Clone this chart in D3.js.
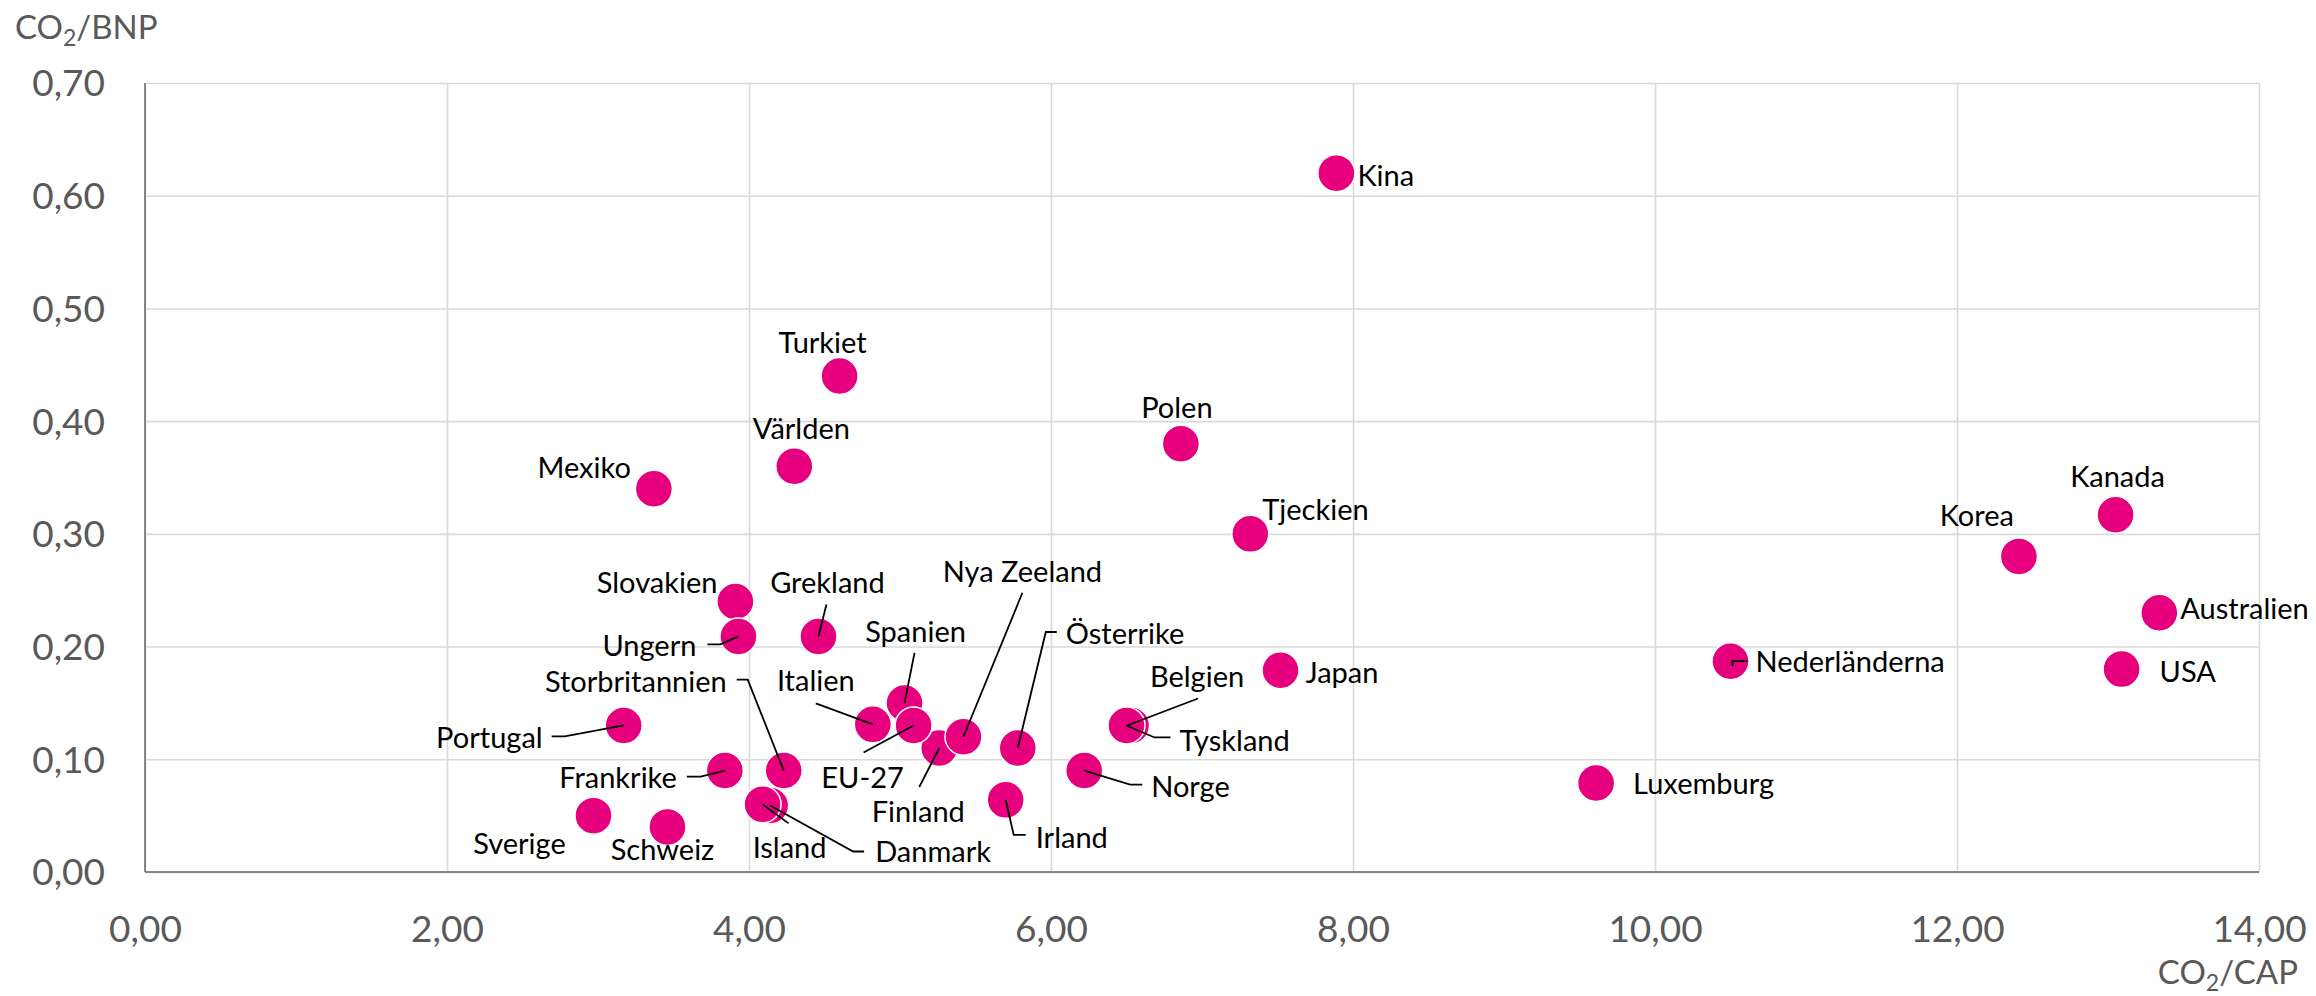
<!DOCTYPE html>
<html><head><meta charset="utf-8">
<script src="https://cdn.jsdelivr.net/npm/d3@7"></script>
<style>html,body{margin:0;padding:0;background:#fff;} svg{display:block;}</style>
</head><body><svg id="chart" width="2316" height="996"></svg>
<script>
// ---- data ----
const countries = ["Kina","Turkiet","Världen","Mexiko","Polen","Tjeckien","Korea","Kanada","Australien","USA","Nederländerna","Luxemburg","Japan","Belgien","Tyskland","Norge","Irland","Österrike","Finland","Nya Zeeland","Spanien","Italien","EU-27","Grekland","Slovakien","Ungern","Storbritannien","Portugal","Frankrike","Danmark","Island","Sverige","Schweiz"];
const co2PerCap = [7.89,4.60,4.30,3.37,6.86,7.32,12.41,13.05,13.34,13.09,10.50,9.61,7.52,6.53,6.50,6.22,5.70,5.78,5.26,5.42,5.03,4.82,5.09,4.46,3.91,3.93,4.23,3.17,3.84,4.14,4.09,2.97,3.46];
const co2PerBnp = [0.62,0.44,0.36,0.34,0.38,0.30,0.28,0.317,0.23,0.18,0.187,0.079,0.179,0.13,0.13,0.09,0.064,0.11,0.11,0.12,0.15,0.131,0.13,0.209,0.24,0.209,0.09,0.13,0.09,0.059,0.06,0.05,0.04];
const xTicks = [0,2,4,6,8,10,12,14];
const yTicks = [0,0.1,0.2,0.3,0.4,0.5,0.6,0.7];
const xTitle = ["CO", "2", "/CAP"];
const yTitle = ["CO", "2", "/BNP"];

// ---- label layout (pixel offsets from the marker) ----
const labelLayout = {
  "Kina":{a:"start",dx:21,dy:2},
  "Turkiet":{a:"middle",dx:-17,dy:-33},
  "Världen":{a:"middle",dx:7,dy:-38},
  "Mexiko":{a:"end",dx:-23,dy:-21},
  "Polen":{a:"middle",dx:-4,dy:-36},
  "Tjeckien":{a:"start",dx:12,dy:-24},
  "Korea":{a:"end",dx:-5,dy:-41},
  "Kanada":{a:"middle",dx:2,dy:-38},
  "Australien":{a:"start",dx:21,dy:-4},
  "USA":{a:"start",dx:38,dy:2},
  "Nederländerna":{a:"start",dx:25,dy:0,leader:[[2,5],[2,0],[17,0]]},
  "Luxemburg":{a:"start",dx:37,dy:1},
  "Japan":{a:"start",dx:25,dy:2},
  "Belgien":{a:"middle",dx:66,dy:-49,leader:[[67,-27],[-4,0]]},
  "Tyskland":{a:"start",dx:53,dy:15,leader:[[0,0],[28,12],[44,12]]},
  "Norge":{a:"start",dx:67,dy:16,leader:[[0,0],[46,14],[58,14]]},
  "Irland":{a:"start",dx:30,dy:38,leader:[[0,0],[8,35],[20,35]]},
  "Österrike":{a:"start",dx:48,dy:-114,leader:[[0,0],[28,-116],[39,-116]]},
  "Finland":{a:"middle",dx:-21,dy:64,leader:[[-20,39],[0,0]]},
  "Nya Zeeland":{a:"middle",dx:59,dy:-165,leader:[[59,-144],[0,0]]},
  "Spanien":{a:"middle",dx:11,dy:-71,leader:[[10,-50],[0,0]]},
  "Italien":{a:"middle",dx:-57,dy:-44,leader:[[-57,-21],[0,0]]},
  "EU-27":{a:"middle",dx:-51,dy:52,leader:[[-50,27],[0,0]]},
  "Grekland":{a:"middle",dx:9,dy:-54,leader:[[8,-32],[0,0]]},
  "Slovakien":{a:"end",dx:-18,dy:-19},
  "Ungern":{a:"end",dx:-42,dy:9,leader:[[-31,8],[-18,8],[0,0]]},
  "Storbritannien":{a:"end",dx:-57,dy:-89,leader:[[-47,-91],[-36,-91],[0,0]]},
  "Portugal":{a:"end",dx:-81,dy:12,leader:[[-72,11],[-59,11],[0,0]]},
  "Frankrike":{a:"end",dx:-48,dy:7,leader:[[-38,6],[-24,6],[0,0]]},
  "Danmark":{a:"start",dx:105,dy:46,leader:[[0,0],[83,46],[94,46]]},
  "Island":{a:"middle",dx:27,dy:43,leader:[[0,0],[26,19]]},
  "Sverige":{a:"middle",dx:-74,dy:28},
  "Schweiz":{a:"middle",dx:-5,dy:23}
};

const FONT = "Lato, 'Open Sans', 'DejaVu Sans', sans-serif";
const svg = d3.select("#chart");
const plotL = 145, plotR = 2259, plotT = 83, plotB = 872;
const x = d3.scaleLinear().domain([0,14]).range([plotL,plotR]);
const y = d3.scaleLinear().domain([0,0.7]).range([plotB,plotT]);
const fmt = v => d3.format(".2f")(v).replace(".", ",");

// gridlines
const gx = svg.append("g").attr("transform",`translate(0,${plotB})`)
  .call(d3.axisBottom(x).tickValues(xTicks).tickSize(-(plotB-plotT)).tickFormat(""));
gx.select(".domain").remove();
gx.selectAll("line").attr("stroke","#d9d9d9").attr("stroke-width",1.6);
const gy = svg.append("g").attr("transform",`translate(${plotL},0)`)
  .call(d3.axisLeft(y).tickValues(yTicks).tickSize(-(plotR-plotL)).tickFormat(""));
gy.select(".domain").remove();
gy.selectAll("line").attr("stroke","#d9d9d9").attr("stroke-width",1.6);

// axes lines
svg.append("line").attr("x1",plotL).attr("x2",plotL).attr("y1",plotT).attr("y2",plotB)
  .attr("stroke","#868686").attr("stroke-width",2);
svg.append("line").attr("x1",plotL).attr("x2",plotR).attr("y1",plotB).attr("y2",plotB)
  .attr("stroke","#868686").attr("stroke-width",2);

// tick labels
const ax = svg.append("g").attr("transform",`translate(0,${plotB})`)
  .call(d3.axisBottom(x).tickValues(xTicks).tickSize(0).tickFormat(fmt));
ax.select(".domain").remove();
ax.selectAll("text").attr("y",70).attr("dy",null)
  .attr("font-family",FONT).attr("font-size",37).attr("fill","#595959");
const ay = svg.append("g").attr("transform",`translate(${plotL},0)`)
  .call(d3.axisLeft(y).tickValues(yTicks).tickSize(0).tickFormat(fmt));
ay.select(".domain").remove();
ay.selectAll("text").attr("x",-40).attr("dy","0.35em")
  .attr("font-family",FONT).attr("font-size",37).attr("fill","#595959");

// axis titles
function title(parts, xp, yp, anchor){
  const t = svg.append("text").attr("x",xp).attr("y",yp).attr("text-anchor",anchor)
    .attr("font-family",FONT).attr("font-size",33).attr("fill","#595959");
  t.append("tspan").text(parts[0]);
  t.append("tspan").attr("dy",7).attr("font-size",23).text(parts[1]);
  t.append("tspan").attr("dy",-7).text(parts[2]);
}
title(yTitle, 15, 39, "start");
title(xTitle, 2298, 984, "end");

// points
const data = countries.map((c,i)=>({name:c, cap:co2PerCap[i], bnp:co2PerBnp[i]}));
svg.append("g").selectAll("circle").data(data).join("circle")
  .attr("cx",d=>x(d.cap)).attr("cy",d=>y(d.bnp)).attr("r",18.5)
  .attr("fill","#e6007e").attr("stroke","#ffffff").attr("stroke-width",1.5);

// leaders
const line = d3.line();
svg.append("g").selectAll("path").data(data.filter(d=>labelLayout[d.name].leader)).join("path")
  .attr("d",d=>{const px=x(d.cap), py=y(d.bnp);
     return line(labelLayout[d.name].leader.map(p=>[px+p[0],py+p[1]]));})
  .attr("fill","none").attr("stroke","#000").attr("stroke-width",1.8);

// labels
svg.append("g").selectAll("text").data(data).join("text")
  .attr("x",d=>x(d.cap)+labelLayout[d.name].dx)
  .attr("y",d=>y(d.bnp)+labelLayout[d.name].dy)
  .attr("dy","0.36em")
  .attr("text-anchor",d=>labelLayout[d.name].a)
  .attr("font-family",FONT).attr("font-size",29).attr("fill","#000")
  .text(d=>d.name);
</script>
</body></html>
